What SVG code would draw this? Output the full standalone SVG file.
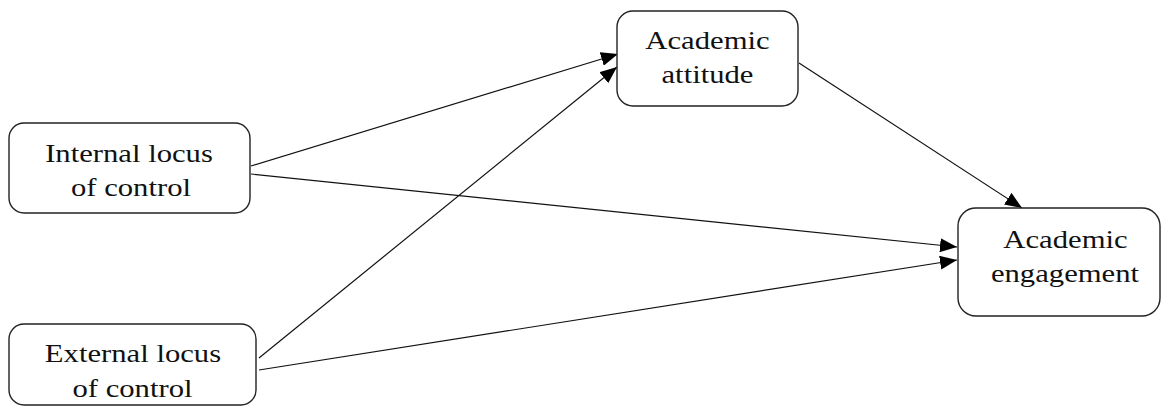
<svg xmlns="http://www.w3.org/2000/svg" width="1162" height="408" viewBox="0 0 1162 408">
  <style>
    .box { fill: #ffffff; stroke: #222222; stroke-width: 1.4; }
    .lbl { font-family: 'Liberation Serif', serif; font-size: 26px; fill: #111111; text-anchor: middle; }
    .edge { stroke: #111111; stroke-width: 1.2; fill: none; marker-end: url(#arr); }
  </style>
  <defs>
    <marker id="arr" markerUnits="userSpaceOnUse" markerWidth="18" markerHeight="14" viewBox="0 0 18 14" refX="17" refY="7" orient="auto">
      <path d="M0,0 L17,7 L0,14 Z" fill="#000000"/>
    </marker>
  </defs>
  <rect width="1162" height="408" fill="#ffffff"/>
  <g id="connectors">
    <line class="edge" x1="251" y1="166" x2="618" y2="54"/>
    <line class="edge" x1="259" y1="358" x2="617" y2="67"/>
    <line class="edge" x1="251" y1="174" x2="957" y2="247"/>
    <line class="edge" x1="259" y1="370" x2="957" y2="260"/>
    <line class="edge" x1="799" y1="63" x2="1022" y2="208"/>
  </g>
  <g id="internal">
    <rect class="box" x="9" y="123" width="241" height="90" rx="15"/>
    <text class="lbl" transform="translate(129,162) scale(1.18,1)">Internal locus</text>
    <text class="lbl" transform="translate(131,196) scale(1.18,1)">of control</text>
  </g>
  <g id="external">
    <rect class="box" x="9" y="324" width="247" height="81" rx="15"/>
    <text class="lbl" transform="translate(133,362) scale(1.18,1)">External locus</text>
    <text class="lbl" transform="translate(132.5,397) scale(1.18,1)">of control</text>
  </g>
  <g id="attitude">
    <rect class="box" x="617" y="11" width="181" height="95" rx="16"/>
    <text class="lbl" transform="translate(707.5,49) scale(1.18,1)">Academic</text>
    <text class="lbl" transform="translate(707.5,83) scale(1.18,1)">attitude</text>
  </g>
  <g id="engagement">
    <rect class="box" x="958" y="208" width="202" height="108" rx="18"/>
    <text class="lbl" transform="translate(1065.5,248) scale(1.18,1)">Academic</text>
    <text class="lbl" transform="translate(1065,282) scale(1.18,1)">engagement</text>
  </g>
</svg>
